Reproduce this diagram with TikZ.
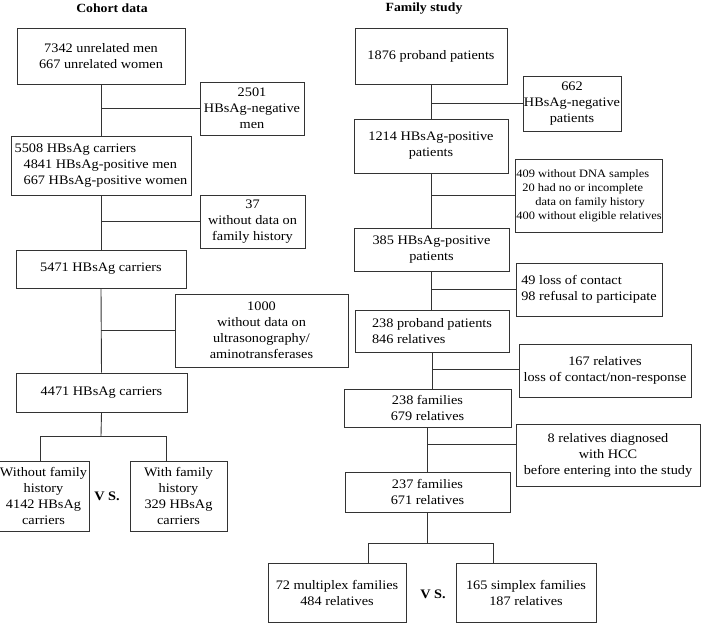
\documentclass[tikz,border=0pt]{standalone}
\usepackage{fontspec}
\setmainfont[FakeStretch=1.1]{Liberation Serif}
\begin{document}
\begin{tikzpicture}[x=1pt,y=-1pt,
  box/.style={draw=black!80, line width=0.9pt, rectangle, inner sep=1pt, align=center,
    font=\fontsize{13}{16}\selectfont},
  lbox/.style={box, align=left},
  conn/.style={draw=black!80, line width=0.9pt},
  ttl/.style={font=\fontsize{12.5}{15}\selectfont\bfseries},
  vs/.style={font=\fontsize{13}{16}\selectfont\bfseries}]
\useasboundingbox (0,0) rectangle (704,630);
% titles
\node[ttl] (t1) at (112,8) {Cohort data};
\node[ttl] (t2) at (424,9) {Family study};
% left column
\node[box, minimum width=168, minimum height=56] (A) at (101,56) {7342 unrelated men\\667 unrelated women};
\node[box, minimum width=104, minimum height=53] (n1) at (252,108.5) {2501\\HBsAg-negative\\men};
\node[lbox, minimum width=180, minimum height=59] (B) at (101,165.5) {5508 HBsAg carriers\\\hspace*{9pt}4841 HBsAg-positive men\\\hspace*{9pt}667 HBsAg-positive women};
\node[box, minimum width=105, minimum height=53] (f37) at (252.5,221.5) {37\\without data on\\family history};
\node[box, minimum width=170, minimum height=38] (C) at (101,269) {5471 HBsAg carriers};
\node[box, minimum width=173, minimum height=73] (k1) at (261.5,330.5) {1000\\without data on\\ultrasonography/\\aminotransferases};
\node[box, minimum width=171, minimum height=39] (D) at (101.5,392.5) {4471 HBsAg carriers};
\node[box, minimum width=91, minimum height=70, inner sep=0pt] (E) at (43.5,496) {Without family\\history\\4142 HBsAg\\carriers};
\node[box, minimum width=97, minimum height=70] (F) at (178.5,496) {With family\\history\\329 HBsAg\\carriers};
\node[vs] (vs1) at (107,496) {V S.};
% left connectors
\draw[conn] (A.south) -- (B.north);
\draw[conn] (n1.west) -- (n1.west -| A.south);
\draw[conn] (B.south) -- (C.north);
\draw[conn] (f37.west) -- (f37.west -| B.south);
\draw[conn] (C.south) -- (D.north);
\draw[conn] (k1.west) -- (k1.west -| C.south);
\coordinate (s1) at (101,436);
\coordinate (s1l) at (40,436);
\coordinate (s1r) at (166,436);
\draw[conn] (D.south) -- (s1);
\draw[conn] (s1l |- E.north) -- (s1l) -- (s1r) -- (s1r |- F.north);
% right column
\node[box, minimum width=152, minimum height=56] (G) at (431,56) {1876 proband patients};
\node[box, minimum width=98, minimum height=55] (n2) at (572,103.5) {662\\HBsAg-negative\\patients};
\node[box, minimum width=154, minimum height=54] (H) at (431,146) {1214 HBsAg-positive\\patients};
\node[lbox, minimum width=146, minimum height=73, font=\fontsize{11.3}{14}\selectfont] (dna) at (589,195.5) {409 without DNA samples\\\hspace*{6pt}20 had no or incomplete\\\hspace*{19pt}data on family history\\400 without eligible relatives};
\node[box, minimum width=155, minimum height=43] (I) at (431.5,249.5) {385 HBsAg-positive\\patients};
\node[lbox, minimum width=146, minimum height=53] (loss) at (589,289.5) {49 loss of contact\\98 refusal to participate};
\node[lbox, minimum width=154, minimum height=42] (J) at (432,331) {238 proband patients\\846 relatives};
\node[box, minimum width=172, minimum height=53] (r167) at (605,370.5) {167 relatives\\loss of contact/non-response};
\node[box, minimum width=167, minimum height=38] (K) at (427.5,408) {238 families\\679 relatives};
\node[box, minimum width=184, minimum height=62] (hcc) at (608,455) {8 relatives diagnosed\\with HCC\\before entering into the study};
\node[box, minimum width=165, minimum height=40] (L) at (427.5,492) {237 families\\671 relatives};
\node[box, minimum width=138, minimum height=59] (M) at (337,592.5) {72 multiplex families\\484 relatives};
\node[box, minimum width=140, minimum height=59] (N) at (526,592.5) {165 simplex families\\187 relatives};
\node[vs] (vs2) at (433,594) {V S.};
% right connectors
\draw[conn] (G.south) -- (G.south |- H.north);
\draw[conn] (n2.west) -- (n2.west -| G.south);
\draw[conn] (H.south) -- (H.south |- I.north);
\draw[conn] (dna.west) -- (dna.west -| H.south);
\draw[conn] (I.south) -- (I.south |- J.north);
\draw[conn] (loss.west) -- (loss.west -| I.south);
\draw[conn] (J.south) -- (J.south |- K.north);
\draw[conn] ([yshift=1.5pt]r167.west) -- ([yshift=1.5pt]r167.west -| J.south);
\draw[conn] (K.south) -- (K.south |- L.north);
\draw[conn] ([yshift=11pt]hcc.west) -- ([yshift=11pt]hcc.west -| K.south);
\coordinate (s2) at (427.5,543);
\coordinate (s2l) at (368,543);
\coordinate (s2r) at (493,543);
\draw[conn] (L.south) -- (s2);
\draw[conn] (s2l |- M.north) -- (s2l) -- (s2r) -- (s2r |- N.north);
\end{tikzpicture}
\end{document}
